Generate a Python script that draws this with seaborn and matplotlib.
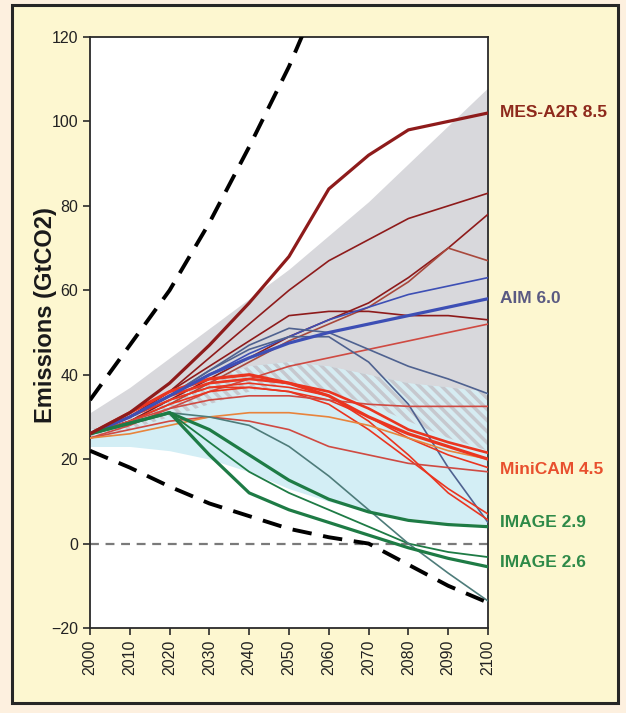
import matplotlib
matplotlib.use("Agg")
import matplotlib.pyplot as plt
import seaborn as sns
import numpy as np
import pandas as pd
from matplotlib.patches import Rectangle

sns.set_theme(style="white")
plt.rcParams['font.family'] = ['Liberation Sans', 'DejaVu Sans']
plt.rcParams['hatch.linewidth'] = 2.5

# ---------------- data ----------------
years = [2000, 2010, 2020, 2030, 2040, 2050, 2060, 2070, 2080, 2090, 2100]

upper_bound = [34, 47, 60, 76, 94, 113, 135, 160, 185, 210, 235]
lower_bound = [22, 18, 13.5, 9.5, 6.5, 3.5, 1.5, 0, -5, -10, -14]

grey_upper = [31, 37, 44, 51, 58, 65, 73, 81, 90, 99, 108]
grey_lower = [25, 27, 30, 33, 36, 38, 36, 33, 29, 25, 22]
blue_upper = [27, 30, 34, 39, 42, 43, 42, 40, 38, 37, 36]
blue_lower = [23, 23, 22, 20, 17, 13, 10, 7.5, 6, 5, 4.5]

mes_a2r_85 = [26, 31, 38, 47, 57, 68, 84, 92, 98, 100, 102]
darkred_a = [26, 30, 36, 44, 52, 60, 67, 72, 77, 80, 83]
darkred_b = [26, 29, 34, 39, 44, 49, 53, 57, 63, 70, 78]
darkred_c = [26, 29, 33, 38, 43, 48, 52, 56, 62, 70, 67]
darkred_d = [26, 30, 36, 42, 48, 54, 55, 55, 54, 54, 53]
darkred_e = [25, 28, 32, 36, 39, 42, 44, 46, 48, 50, 52]

aim_60 = [26, 30, 35, 40, 44, 47.5, 50, 52, 54, 56, 58]
blue_a = [26, 30, 35, 40, 45, 49, 53, 56, 59, 61, 63]
slate_a = [26, 30, 35, 41, 47, 51, 50, 46, 42, 39, 35.5]
slate_b = [26, 30, 35, 41, 46, 49, 49, 43, 33, 18, 5]

minicam_45 = [26, 31, 36, 39, 40, 38, 35, 30, 26, 23, 20]
red_a = [26, 30, 35, 38, 39, 38, 36, 32, 27, 24, 21.5]
red_b = [26, 30, 34, 37, 37, 36, 34, 30, 25, 21, 18]
red_c = [26, 29, 33, 36, 37, 36, 33, 27, 20, 13, 7]
red_d = [26, 29, 32, 34, 35, 35, 34, 33, 32.5, 32.5, 32.5]
red_e = [25, 27, 29, 30, 29, 27, 23, 21, 19, 18, 17]
red_f = [26, 30, 34, 37, 38, 37, 35, 29, 21, 12, 5.6]
orange_a = [25, 26, 28, 30, 31, 31, 30, 28, 25, 22, 20]

image_29 = [26, 28.5, 31, 27, 21, 15, 10.5, 7.5, 5.5, 4.5, 4]
image_26 = [26, 28.5, 31, 21, 12, 8, 5, 2, -1, -3.5, -5.5]
green_a = [26, 28.5, 31, 24, 17, 12, 8, 4, 0, -2, -3.2]
green_b = [26, 28.5, 31, 30, 28, 23, 16, 8, 0, -7, -13.6]

label_names = ["MES-A2R 8.5", "AIM 6.0", "MiniCAM 4.5", "IMAGE 2.9", "IMAGE 2.6"]
label_values = [102, 58, 17.5, 5, -4.6]

# ---------------- styling ----------------
DARKRED = "#8e1b1b"
BROWNRED = "#a8483c"
PINKRED = "#cf4a42"
RED = "#ea3520"
ORANGE = "#e8843c"
BLUE = "#3d4fb5"
SLATE = "#4f6290"
GREEN = "#1e7b45"
SLATEGREEN = "#4e7c7a"

series = [
    ("darkred_a", darkred_a, DARKRED, 1.2),
    ("darkred_b", darkred_b, DARKRED, 1.2),
    ("darkred_c", darkred_c, BROWNRED, 1.2),
    ("darkred_d", darkred_d, DARKRED, 1.2),
    ("darkred_e", darkred_e, PINKRED, 1.2),
    ("blue_a", blue_a, BLUE, 1.2),
    ("slate_a", slate_a, SLATE, 1.2),
    ("slate_b", slate_b, SLATE, 1.2),
    ("red_b", red_b, RED, 1.2),
    ("red_c", red_c, RED, 1.2),
    ("red_d", red_d, PINKRED, 1.2),
    ("red_e", red_e, PINKRED, 1.2),
    ("red_f", red_f, RED, 1.2),
    ("orange_a", orange_a, ORANGE, 1.2),
    ("green_a", green_a, GREEN, 1.3),
    ("green_b", green_b, SLATEGREEN, 1.2),
    ("red_a", red_a, RED, 1.9),
    ("minicam_45", minicam_45, RED, 2.3),
    ("aim_60", aim_60, BLUE, 2.3),
    ("image_29", image_29, GREEN, 2.3),
    ("image_26", image_26, GREEN, 2.3),
    ("mes_a2r_85", mes_a2r_85, DARKRED, 2.3),
]

label_colors = ["#8e2a1c", "#5a5a82", "#e8502e", "#2e8a48", "#2e8a48"]

W, H = 626, 713
fig = plt.figure(figsize=(W / 100, H / 100), dpi=100)
fig.patch.set_facecolor("#fdf0df")
frame = Rectangle((12 / W, 1 - 703 / H), 606 / W, 698 / H, transform=fig.transFigure,
                  facecolor="#fdf7d0", edgecolor="#262626", lw=2.2, zorder=-5)
fig.patches.append(frame)

ax = fig.add_axes([90 / W, 1 - 628 / H, 398 / W, 591 / H])
ax.set_zorder(1)
ax.set_facecolor("white")

yr = np.array(years, dtype=float)
gu, gl = np.array(grey_upper), np.array(grey_lower)
bu, bl = np.array(blue_upper), np.array(blue_lower)
ax.fill_between(yr, gl, gu, color="#d8d8dc", lw=0, zorder=1)
ax.fill_between(yr, bl, bu, color="#d3eef5", lw=0, zorder=1)
ov_lo = np.maximum(gl, bl)
ov_hi = np.minimum(gu, bu)
ax.fill_between(yr, ov_lo, ov_hi, where=ov_hi > ov_lo, interpolate=True,
                facecolor="#d6ecf2", edgecolor="#c6c8ce", hatch="\\\\\\", lw=0, zorder=1.5)

ax.axhline(0, color="#7a7a7a", lw=1.6, dashes=(4, 3), zorder=2)

for name, vals, col, lw in series:
    sns.lineplot(x=years, y=vals, color=col, lw=lw, ax=ax, zorder=3, legend=False)

sns.lineplot(x=years, y=upper_bound, color="black", lw=2.8, ax=ax, zorder=4)
sns.lineplot(x=years, y=lower_bound, color="black", lw=2.8, ax=ax, zorder=4)
for ln in ax.lines[-2:]:
    ln.set_dashes((5, 3))

ax.set_xlim(2000, 2100)
ax.set_ylim(-20, 120)
ax.set_xticks(years)
ax.set_xticklabels([str(y) for y in years], rotation=90, fontsize=11.5)
ax.set_yticks([-20, 0, 20, 40, 60, 80, 100, 120])
ax.tick_params(axis="y", labelsize=11.5)
ax.tick_params(direction="out", length=5, width=1.2, colors="#2a2a2a",
               left=True, bottom=True, labelcolor="#222222")
for s in ax.spines.values():
    s.set_color("#2a2a2a")
    s.set_linewidth(1.3)
ax.set_xlabel("")
ax.set_ylabel("Emissions (GtCO2)", fontsize=17, fontweight="bold", color="#1a1a1a")
ax.yaxis.label.set_va("center")
ax.yaxis.set_label_coords(-0.113, 0.53)

for name, v, c in zip(label_names, label_values, label_colors):
    ax.text(2103, v, name, color=c, fontsize=12.5, fontweight="bold",
            va="center", ha="left", clip_on=False)

fig.savefig("out.png", dpi=100, facecolor=fig.get_facecolor())
